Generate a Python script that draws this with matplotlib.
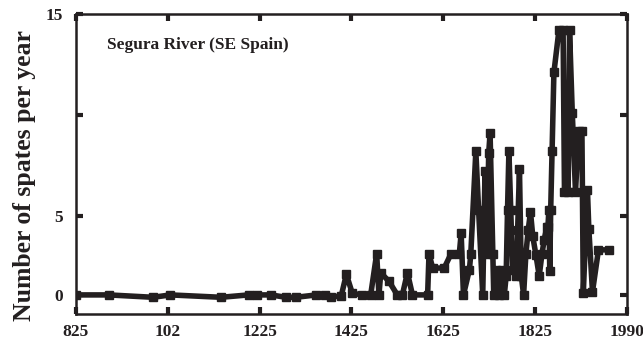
import matplotlib
matplotlib.use("Agg")
import matplotlib.pyplot as plt
import numpy as np

# spates per year, Segura River record
years = [825, 897, 993, 1031, 1141, 1201, 1219, 1250, 1282, 1304, 1349, 1367, 1380, 1403,
         1414, 1427, 1449, 1467, 1480, 1485, 1489, 1507, 1525, 1536, 1547, 1558, 1591, 1594,
         1602, 1627, 1642, 1660, 1664, 1669, 1682, 1685, 1696, 1702, 1711, 1716, 1720, 1724,
         1727, 1733, 1735, 1740, 1747, 1752, 1758, 1762, 1765, 1768, 1772, 1776, 1784, 1787,
         1791, 1795, 1800, 1805, 1810, 1815, 1820, 1827, 1834, 1840, 1845, 1850, 1853, 1855,
         1857, 1859, 1862, 1866, 1877, 1886, 1889, 1897, 1900, 1906, 1913, 1920, 1927, 1930,
         1939, 1942, 1950, 1963, 1985]
spates = [0, 0, -0.15, 0, -0.15, 0, 0, 0, -0.15, -0.15, 0, 0, -0.15, -0.05,
          1.3, 0.1, 0, 0, 2.6, 0, 1.4, 0.85, 0, 0, 1.4, 0, 0, 2.6,
          1.7, 1.7, 2.6, 2.6, 3.9, 0, 1.6, 2.6, 8.2, 5.3, 0, 7.2, 2.6, 8.1,
          9.1, 2.6, 0, 1.6, 0, 1.6, 0, 1.2, 5.3, 8.2, 5.3, 1.6, 1.2, 4.1,
          7.3, 1.2, 0, 2.6, 4.1, 5.2, 3.7, 2.5, 1.2, 2.6, 3.5, 4.3, 4.3, 5.3,
          1.5, 5.3, 8.2, 12.1, 14.2, 14.2, 6.2, 6.2, 14.2, 10.1, 6.2, 9.2, 9.2, 0.1,
          6.3, 4.2, 0.2, 2.85, 2.85]

x_ticks = [825, 1025, 1225, 1425, 1625, 1825, 2025]
x_labels = ["825", "102", "1225", "1425", "1625", "1825", "1990"]
y_ticks = [0, 5, 10, 15]
y_labels = ["0", "5", "", "15"]

# the vertical axis is stretched differently below and above 5
y_knots = [-1.2, 0, 5, 15]
y_pix = [0, 19, 98, 300]


def y_forward(v):
    return np.interp(v, y_knots, y_pix)


def y_inverse(p):
    return np.interp(p, y_pix, y_knots)


ink = "#231f20"
plt.rcParams["font.family"] = ["Liberation Serif", "DejaVu Serif"]
plt.rcParams["font.weight"] = "bold"

fig = plt.figure(figsize=(6.43, 3.39), dpi=100)
ax = fig.add_axes([0.118, 0.074, 0.857, 0.885])

ax.plot(years, spates, color=ink, lw=4.0, marker="s", ms=6.3,
        solid_joinstyle="round", zorder=3)

ax.set_yscale("function", functions=(y_forward, y_inverse))
ax.set_xlim(825, 2025)
ax.set_ylim(-1.2, 15)

ax.set_xticks(x_ticks)
ax.set_xticklabels(x_labels)
ax.set_yticks(y_ticks)
ax.set_yticklabels(y_labels)
ax.minorticks_off()

ax.tick_params(direction="in", length=5, width=3, color=ink,
               top=True, right=True, labelsize=12.5, labelcolor=ink)
ax.tick_params(axis="x", pad=7)
ax.tick_params(axis="y", pad=9)
for sp in ax.spines.values():
    sp.set_linewidth(1.8)
    sp.set_color(ink)

ax.set_ylabel("Number of spates per year", fontsize=18.5, fontweight="bold", color=ink)
ax.yaxis.set_label_coords(-0.073, 0.46)
ax.text(0.056, 0.897, "Segura River (SE Spain)", transform=ax.transAxes,
        fontsize=12.5, fontweight="bold", color=ink, va="center", ha="left")

fig.savefig("out.png", dpi=100)
